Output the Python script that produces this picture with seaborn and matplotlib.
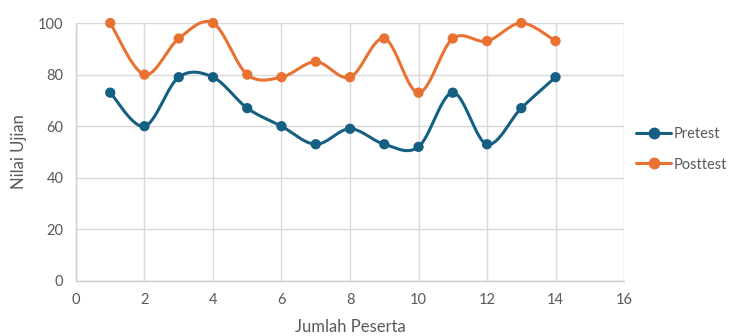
import numpy as np
import pandas as pd
import matplotlib
matplotlib.use("Agg")
import matplotlib.pyplot as plt
import seaborn as sns
from matplotlib.lines import Line2D

peserta = [1, 2, 3, 4, 5, 6, 7, 8, 9, 10, 11, 12, 13, 14]
pretest = [73, 60, 79, 79, 67, 60, 53, 59, 53, 52, 73, 53, 67, 79]
posttest = [100, 80, 94, 100, 80, 79, 85, 79, 94, 73, 94, 93, 100, 93]
series_names = ["Pretest", "Posttest"]
colors = ["#155F82", "#E97132"]

sns.set_theme(style="white")
plt.rcParams['font.family'] = ['Lato', 'DejaVu Sans']
text_color = "#595959"


def smooth(x, y, n=30):
    x = np.asarray(x, float)
    y = np.asarray(y, float)
    xs, ys = [], []
    m = len(x)
    for i in range(m - 1):
        p0 = np.array([x[max(i - 1, 0)], y[max(i - 1, 0)]])
        p1 = np.array([x[i], y[i]])
        p2 = np.array([x[i + 1], y[i + 1]])
        p3 = np.array([x[min(i + 2, m - 1)], y[min(i + 2, m - 1)]])
        c1 = p1 + (p2 - p0) / 6.0
        c2 = p2 - (p3 - p1) / 6.0
        t = np.linspace(0, 1, n)[:, None]
        pts = ((1 - t) ** 3) * p1 + 3 * ((1 - t) ** 2) * t * c1 + 3 * (1 - t) * t ** 2 * c2 + t ** 3 * p2
        if i > 0:
            pts = pts[1:]
        xs.append(pts[:, 0])
        ys.append(pts[:, 1])
    return np.concatenate(xs), np.concatenate(ys)


fig = plt.figure(figsize=(7.32, 3.36), dpi=100)
ax = fig.add_axes([0.1038, 0.1637, 0.7487, 0.7678])

df = pd.DataFrame({"x": peserta * 2,
                   "y": pretest + posttest,
                   "s": [series_names[0]] * len(peserta) + [series_names[1]] * len(peserta)})

for name, vals, c in zip(series_names, [pretest, posttest], colors):
    sx, sy = smooth(peserta, vals)
    ax.plot(sx, sy, color=c, lw=2.2, zorder=3, solid_capstyle="round", clip_on=False)

sns.scatterplot(data=df, x="x", y="y", hue="s", palette=colors, s=55,
                edgecolor="none", ax=ax, zorder=4, legend=False)
for coll in ax.collections:
    coll.set_clip_on(False)

ax.set_xlim(0, 16)
ax.set_ylim(0, 100)
ax.set_xticks(range(0, 17, 2))
ax.set_yticks(range(0, 101, 20))
ax.grid(True, color="#D9D9D9", lw=1)
ax.set_axisbelow(True)
for sp in ["top", "right"]:
    ax.spines[sp].set_visible(False)
for sp in ["left", "bottom"]:
    ax.spines[sp].set_color("#D0D0D0")
    ax.spines[sp].set_linewidth(1)
ax.tick_params(axis="both", labelsize=10.5, colors=text_color, length=0, pad=9)
ax.set_xlabel("Jumlah Peserta", fontsize=12, color=text_color, labelpad=8)
ax.set_ylabel("Nilai Ujian", fontsize=12, color=text_color, labelpad=8)

handles = [Line2D([0], [0], color=c, lw=2.2, marker="o", markersize=7.5) for c in colors]
leg = fig.legend(handles, series_names, loc="center left", bbox_to_anchor=(0.869, 0.555),
                 frameon=False, fontsize=10.5, handlelength=2.4, handletextpad=0.2,
                 borderpad=0.0, borderaxespad=0.0,
                 labelspacing=1.1, labelcolor=text_color)

fig.savefig("out.png", dpi=100, facecolor="white")
